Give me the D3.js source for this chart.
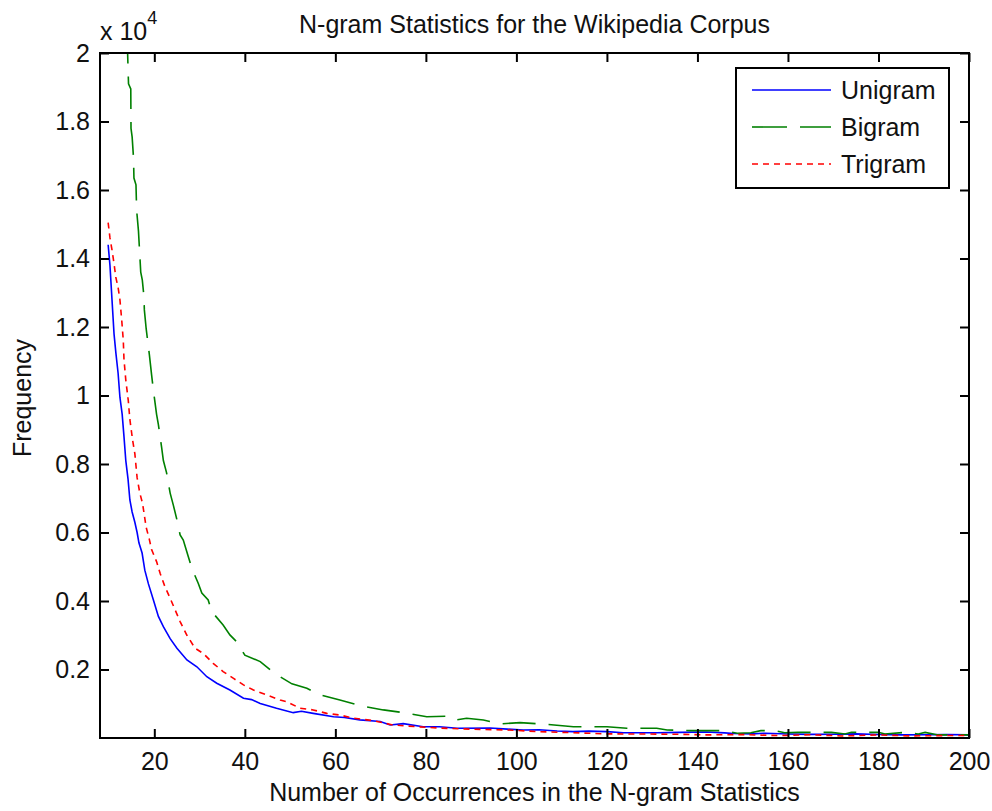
<!DOCTYPE html>
<html>
<head>
<meta charset="utf-8">
<script src="https://cdn.jsdelivr.net/npm/d3@7"></script>
<style>
  body { margin: 0; background: #fff; }
  text { font-family: "Liberation Sans", Arial, sans-serif; fill: #111; }
</style>
</head>
<body>
<div id="chart"></div>
<script>
const svgWidth = 992;
const svgHeight = 811;
const margin = { top: 53, right: 23, bottom: 73, left: 100 };
const innerWidth = svgWidth - margin.left - margin.right;
const innerHeight = svgHeight - margin.top - margin.bottom;

// values (x = occurrences, y = frequency)
const unigramX = [9.8, 10.2, 10.65, 11.1, 11.5, 12.0, 12.4, 12.9, 13.3, 13.7, 14.2, 14.6, 15.1, 15.7, 16.2, 16.6, 17.3, 17.9, 18.7, 19.8,
  20.9, 22.0, 23.5, 25.0, 27.2, 29.4, 31.6, 33.8, 36.7, 39.7, 41.5, 43.4, 47.0, 50.7, 52.5, 55.1, 59.6, 62, 65.4, 69.9, 72.1, 75, 79.4,
  83, 86.9, 94.2, 98, 101.5, 105, 109, 112.5, 116, 120, 123.6, 131, 136, 142, 146, 148, 152, 155, 160, 165, 170, 175, 180, 185, 190, 195, 200];
const unigramY = [14400, 13800, 12800, 11800, 11250, 10650, 9950, 9450, 8800, 8100, 7550, 6950, 6600, 6300, 6000, 5700, 5400, 4900, 4500, 4030,
  3550, 3250, 2900, 2620, 2280, 2080, 1790, 1600, 1400, 1160, 1120, 1010, 870, 740, 780, 720, 620, 600, 530, 480, 380, 420, 330,
  330, 285, 290, 260, 235, 240, 205, 185, 200, 185, 155, 155, 165, 175, 150, 130, 120, 140, 117, 105, 110, 120, 100, 90, 95, 100, 90];

const bigramX = [13.5, 14.1, 14.3, 14.8, 14.85, 15.1, 15.4, 15.5, 15.95, 16.1, 16.5, 17.0, 17.35, 17.7, 17.8, 18.2, 18.9, 19.4, 19.8, 20.5,
  20.9, 21.6, 22.0, 22.7, 23.5, 24.2, 25.0, 25.7, 26.4, 27.5, 28.3, 29.7, 30.5, 31.9, 32.7, 35.2, 36.7, 38.2, 40.0, 43.4,
  45.6, 47.8, 50.4, 53.7, 56.6, 61.0, 64.3, 66.9, 70.6, 75.0, 80.2, 85.3, 86.8, 89.0, 92.7, 96.4, 100.8, 106.7, 112.6, 120.0,
  124.4, 131.0, 133.3, 138.5, 145.8, 148.8, 151.8, 154, 157, 159.3, 162.2, 169.6, 172.6, 174, 180, 181.4, 185.9, 188.8, 190.3, 193.2, 200];
const bigramY = [22000, 20000, 19100, 18950, 17800, 17550, 16950, 16350, 16150, 15400, 14800, 13600, 13370, 12900, 12500, 11950, 11200, 10600, 10150, 9450,
  9150, 8500, 8100, 7750, 7150, 6800, 6370, 5930, 5780, 5300, 4950, 4520, 4230, 4030, 3690, 3300, 3010, 2810, 2420, 2230,
  1990, 1790, 1580, 1450, 1260, 1110, 990, 910, 820, 740, 620, 640, 530, 575, 525, 410, 450, 400, 330, 330,
  285, 285, 235, 215, 215, 140, 155, 215, 215, 155, 165, 165, 117, 165, 165, 117, 165, 117, 165, 90, 90];

const trigramX = [9.8, 10.2, 10.65, 11.1, 11.5, 12.0, 12.4, 12.8, 13.15, 13.3, 13.7, 14.25, 14.6, 15.2, 15.7, 16.2, 16.8, 17.4, 18.2, 18.9,
  19.4, 20.5, 21.3, 22.4, 23.5, 24.6, 25.7, 27.2, 29.0, 30.8, 33.0, 35.2, 37.5, 39.7, 41.9, 44.8, 47.8, 49.2, 50.0, 52.2,
  55.1, 58.1, 61.0, 64.0, 68.4, 72.7, 78.0, 83.1, 90.4, 97.9, 105.2, 112.5, 120, 127.3, 135, 142, 150, 158, 165, 172, 180, 187, 193, 200];
const trigramY = [15050, 14600, 14250, 13850, 13450, 13150, 12800, 12200, 11600, 11050, 10450, 9850, 9300, 8700, 8300, 7600, 7150, 6850, 6150, 5800,
  5500, 5150, 4800, 4400, 4080, 3740, 3400, 3000, 2620, 2470, 2180, 1940, 1740, 1550, 1400, 1260, 1110, 1060, 1010, 870,
  820, 720, 670, 580, 505, 380, 330, 290, 255, 235, 185, 155, 120, 117, 110, 90, 100, 70, 95, 60, 90, 60, 70, 75];

const xTicks = [20, 40, 60, 80, 100, 120, 140, 160, 180, 200];
const yTicks = [2000, 4000, 6000, 8000, 10000, 12000, 14000, 16000, 18000, 20000];

const series = [
  { name: "Unigram", xs: unigramX, ys: unigramY, color: "#0000ff", dash: null },
  { name: "Bigram", xs: bigramX, ys: bigramY, color: "#008000", dash: "33,13" },
  { name: "Trigram", xs: trigramX, ys: trigramY, color: "#ff0000", dash: "6,5" }
];

const svg = d3.select("#chart")
  .append("svg")
  .attr("width", svgWidth)
  .attr("height", svgHeight);

const g = svg.append("g")
  .attr("transform", `translate(${margin.left}, ${margin.top})`);

const xScale = d3.scaleLinear().domain([8, 200]).range([0, innerWidth]);
const yScale = d3.scaleLinear().domain([0, 20000]).range([innerHeight, 0]);

// clip the curves to the plot box
svg.append("defs").append("clipPath")
  .attr("id", "plotClip")
  .append("rect")
  .attr("width", innerWidth)
  .attr("height", innerHeight);

const line = d3.line()
  .x(d => xScale(d[0]))
  .y(d => yScale(d[1]));

g.append("g")
  .attr("clip-path", "url(#plotClip)")
  .selectAll("path")
  .data(series)
  .enter()
  .append("path")
  .attr("d", s => line(s.xs.map((x, i) => [x, s.ys[i]])))
  .attr("fill", "none")
  .attr("stroke", s => s.color)
  .attr("stroke-width", 1.6)
  .attr("stroke-dasharray", s => s.dash);

// inward ticks like matlab
const tickLen = 9;
const fmtY = d => String(+(d / 1e4).toFixed(1));

const xAxis = g.append("g")
  .attr("transform", `translate(0, ${innerHeight})`)
  .call(d3.axisBottom(xScale).tickValues(xTicks).tickSize(-tickLen).tickPadding(14));
g.append("g")
  .call(d3.axisTop(xScale).tickValues(xTicks).tickSize(-tickLen).tickFormat(""));
const yAxis = g.append("g")
  .call(d3.axisLeft(yScale).tickValues(yTicks).tickSize(-tickLen).tickPadding(10).tickFormat(fmtY));
g.append("g")
  .attr("transform", `translate(${innerWidth}, 0)`)
  .call(d3.axisRight(yScale).tickValues(yTicks).tickSize(-tickLen).tickFormat(""));

g.selectAll(".domain").remove();
g.selectAll(".tick line").attr("stroke", "#000").attr("stroke-width", 2);
g.selectAll(".tick text")
  .style("font-size", "25px")
  .style("font-family", "'Liberation Sans', Arial, sans-serif")
  .attr("fill", "#111");

g.append("rect")
  .attr("width", innerWidth)
  .attr("height", innerHeight)
  .attr("fill", "none")
  .attr("stroke", "#000")
  .attr("stroke-width", 2);

// exponent label
const expo = svg.append("text")
  .attr("x", 100)
  .attr("y", 40)
  .style("font-size", "25px");
expo.append("tspan").text("x 10");
expo.append("tspan")
  .attr("dy", -16)
  .style("font-size", "18px")
  .text("4");

// title and axis labels
svg.append("text")
  .attr("x", margin.left + innerWidth / 2)
  .attr("y", 33)
  .attr("text-anchor", "middle")
  .style("font-size", "25px")
  .text("N-gram Statistics for the Wikipedia Corpus");

svg.append("text")
  .attr("x", margin.left + innerWidth / 2)
  .attr("y", 801)
  .attr("text-anchor", "middle")
  .style("font-size", "25px")
  .text("Number of Occurrences in the N-gram Statistics");

svg.append("text")
  .attr("transform", `translate(31, 398) rotate(-90)`)
  .attr("text-anchor", "middle")
  .style("font-size", "25px")
  .text("Frequency");

// legend
const legend = svg.append("g").attr("transform", "translate(736, 68)");
legend.append("rect")
  .attr("width", 213)
  .attr("height", 120)
  .attr("fill", "#fff")
  .attr("stroke", "#000")
  .attr("stroke-width", 2);

const rows = legend.selectAll(".row")
  .data(series)
  .enter()
  .append("g")
  .attr("class", "row")
  .attr("transform", (d, i) => `translate(0, ${22 + i * 37})`);

rows.append("line")
  .attr("x1", 16)
  .attr("x2", 95)
  .attr("stroke", d => d.color)
  .attr("stroke-width", 1.6)
  .attr("stroke-dasharray", d => d.name === "Bigram" ? "35,13" : d.dash);

rows.append("text")
  .attr("x", 105)
  .attr("dy", "0.35em")
  .style("font-size", "25px")
  .text(d => d.name);
</script>
</body>
</html>
